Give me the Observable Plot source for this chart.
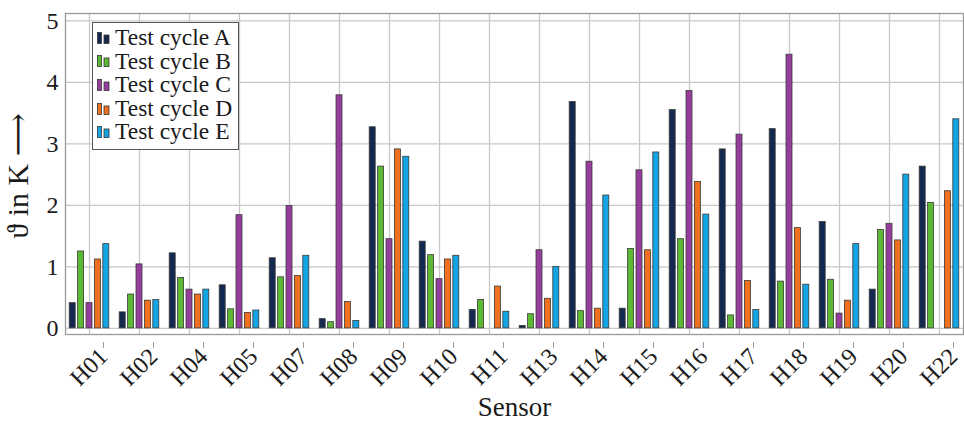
<!DOCTYPE html>
<html><head><meta charset="utf-8">
<script src="https://cdn.jsdelivr.net/npm/d3@7"></script>
<script src="https://cdn.jsdelivr.net/npm/@observablehq/plot@0.6"></script>
<style>
body{margin:0;background:#fff;}
#wrap{position:relative;width:964px;height:422px;}
#legend{position:absolute;left:92px;top:22px;width:147px;height:128px;border:1px solid #555;background:#fff;box-sizing:border-box;font-family:"Liberation Serif","DejaVu Serif",serif;font-size:23.5px;color:#1a1a1a;padding-top:3px;}
#legend .row{height:23.6px;line-height:23.6px;display:flex;align-items:center;white-space:nowrap;}
#legend svg{margin-left:4px;margin-right:5px;}
</style></head>
<body><div id="wrap"></div>
<script>
const sensors = ["H01","H02","H04","H05","H07","H08","H09","H10","H11","H13","H14","H15","H16","H17","H18","H19","H20","H22"];
const seriesNames = ["Test cycle A","Test cycle B","Test cycle C","Test cycle D","Test cycle E"];
const cycleA = [0.41,0.26,1.22,0.70,1.14,0.15,3.27,1.41,0.30,0.04,3.68,0.32,3.55,2.91,3.24,1.73,0.63,2.63];
const cycleB = [1.25,0.55,0.82,0.31,0.83,0.10,2.63,1.19,0.46,0.23,0.28,1.29,1.45,0.21,0.76,0.79,1.60,2.04];
const cycleC = [0.41,1.04,0.63,1.84,1.99,3.79,1.45,0.80,0.00,1.27,2.71,2.57,3.86,3.15,4.45,0.24,1.70,0.00];
const cycleD = [1.12,0.45,0.55,0.25,0.85,0.43,2.91,1.12,0.68,0.48,0.32,1.27,2.38,0.77,1.63,0.45,1.43,2.23];
const cycleE = [1.37,0.46,0.63,0.29,1.18,0.12,2.79,1.18,0.27,1.00,2.16,2.86,1.85,0.30,0.71,1.37,2.50,3.40];
const yTicks = [0,1,2,3,4,5];
const colors = ["#13294f","#5cb934","#963c9c","#f07020","#14a4e4"];

const allSeries = [cycleA,cycleB,cycleC,cycleD,cycleE];
const tables = allSeries.map((vals,k)=>sensors.map((s,i)=>({sensor:s, series:seriesNames[k], value:vals[i]})));

const step = 8.4;
const barMarks = tables.map((t,k)=>Plot.barY(t,{x:"sensor", y:"value", fill:colors[k], stroke:"#3a3a3a", strokeWidth:0.8, dx:(k-2)*step}));

const chart = Plot.plot({
  width:964, height:422,
  marginLeft:65, marginRight:1, marginTop:13, marginBottom:88,
  style:{fontFamily:"'Liberation Serif', 'DejaVu Serif', serif", fontSize:"21px", background:"#fff", color:"#1a1a1a"},
  x:{type:"band", domain:sensors, paddingInner:0.881, paddingOuter:0.364, label:null},
  y:{domain:[-0.1,5.12], label:null},
  marks:[
    Plot.gridY(yTicks,{stroke:"#c8c8c8", strokeOpacity:1, strokeWidth:1.3}),
    Plot.gridX(sensors,{stroke:"#c8c8c8", strokeOpacity:1, strokeWidth:1.3}),
    Plot.frame({stroke:"#9a9a9a", strokeWidth:1.3}),
    ...barMarks,
    Plot.axisX({tickRotate:-45, tickSize:6, tickPadding:4, stroke:"#9a9a9a", fontSize:24, label:null, dx:14, dy:8}),
    Plot.axisY(yTicks,{tickSize:0, tickPadding:7, fontSize:24, tickFormat:d3.format("d"), label:null}),
    Plot.text(["Sensor"],{frameAnchor:"bottom", lineAnchor:"middle", textAnchor:"middle", dy:73, fontSize:27, fill:"#1a1a1a"}),
    Plot.text(["\u03D1 in K \u27F6"],{frameAnchor:"left", textAnchor:"middle", lineAnchor:"middle", rotate:-90, dx:-47, dy:2, fontSize:30, fill:"#1a1a1a"})
  ]
});
const wrap = document.getElementById("wrap");
wrap.appendChild(chart);

const legend = document.createElement("div");
legend.id = "legend";
seriesNames.forEach((name,k)=>{
  const row = document.createElement("div");
  row.className = "row";
  row.innerHTML = `<svg width="13" height="12" viewBox="0 0 13 12"><rect x="0.5" y="0.5" width="4" height="11" fill="${colors[k]}" stroke="#333" stroke-width="0.8"/><rect x="7" y="3" width="5" height="8.5" fill="${colors[k]}" stroke="#333" stroke-width="0.8"/></svg><span>${name}</span>`;
  legend.appendChild(row);
});
wrap.appendChild(legend);
</script>
</body></html>
